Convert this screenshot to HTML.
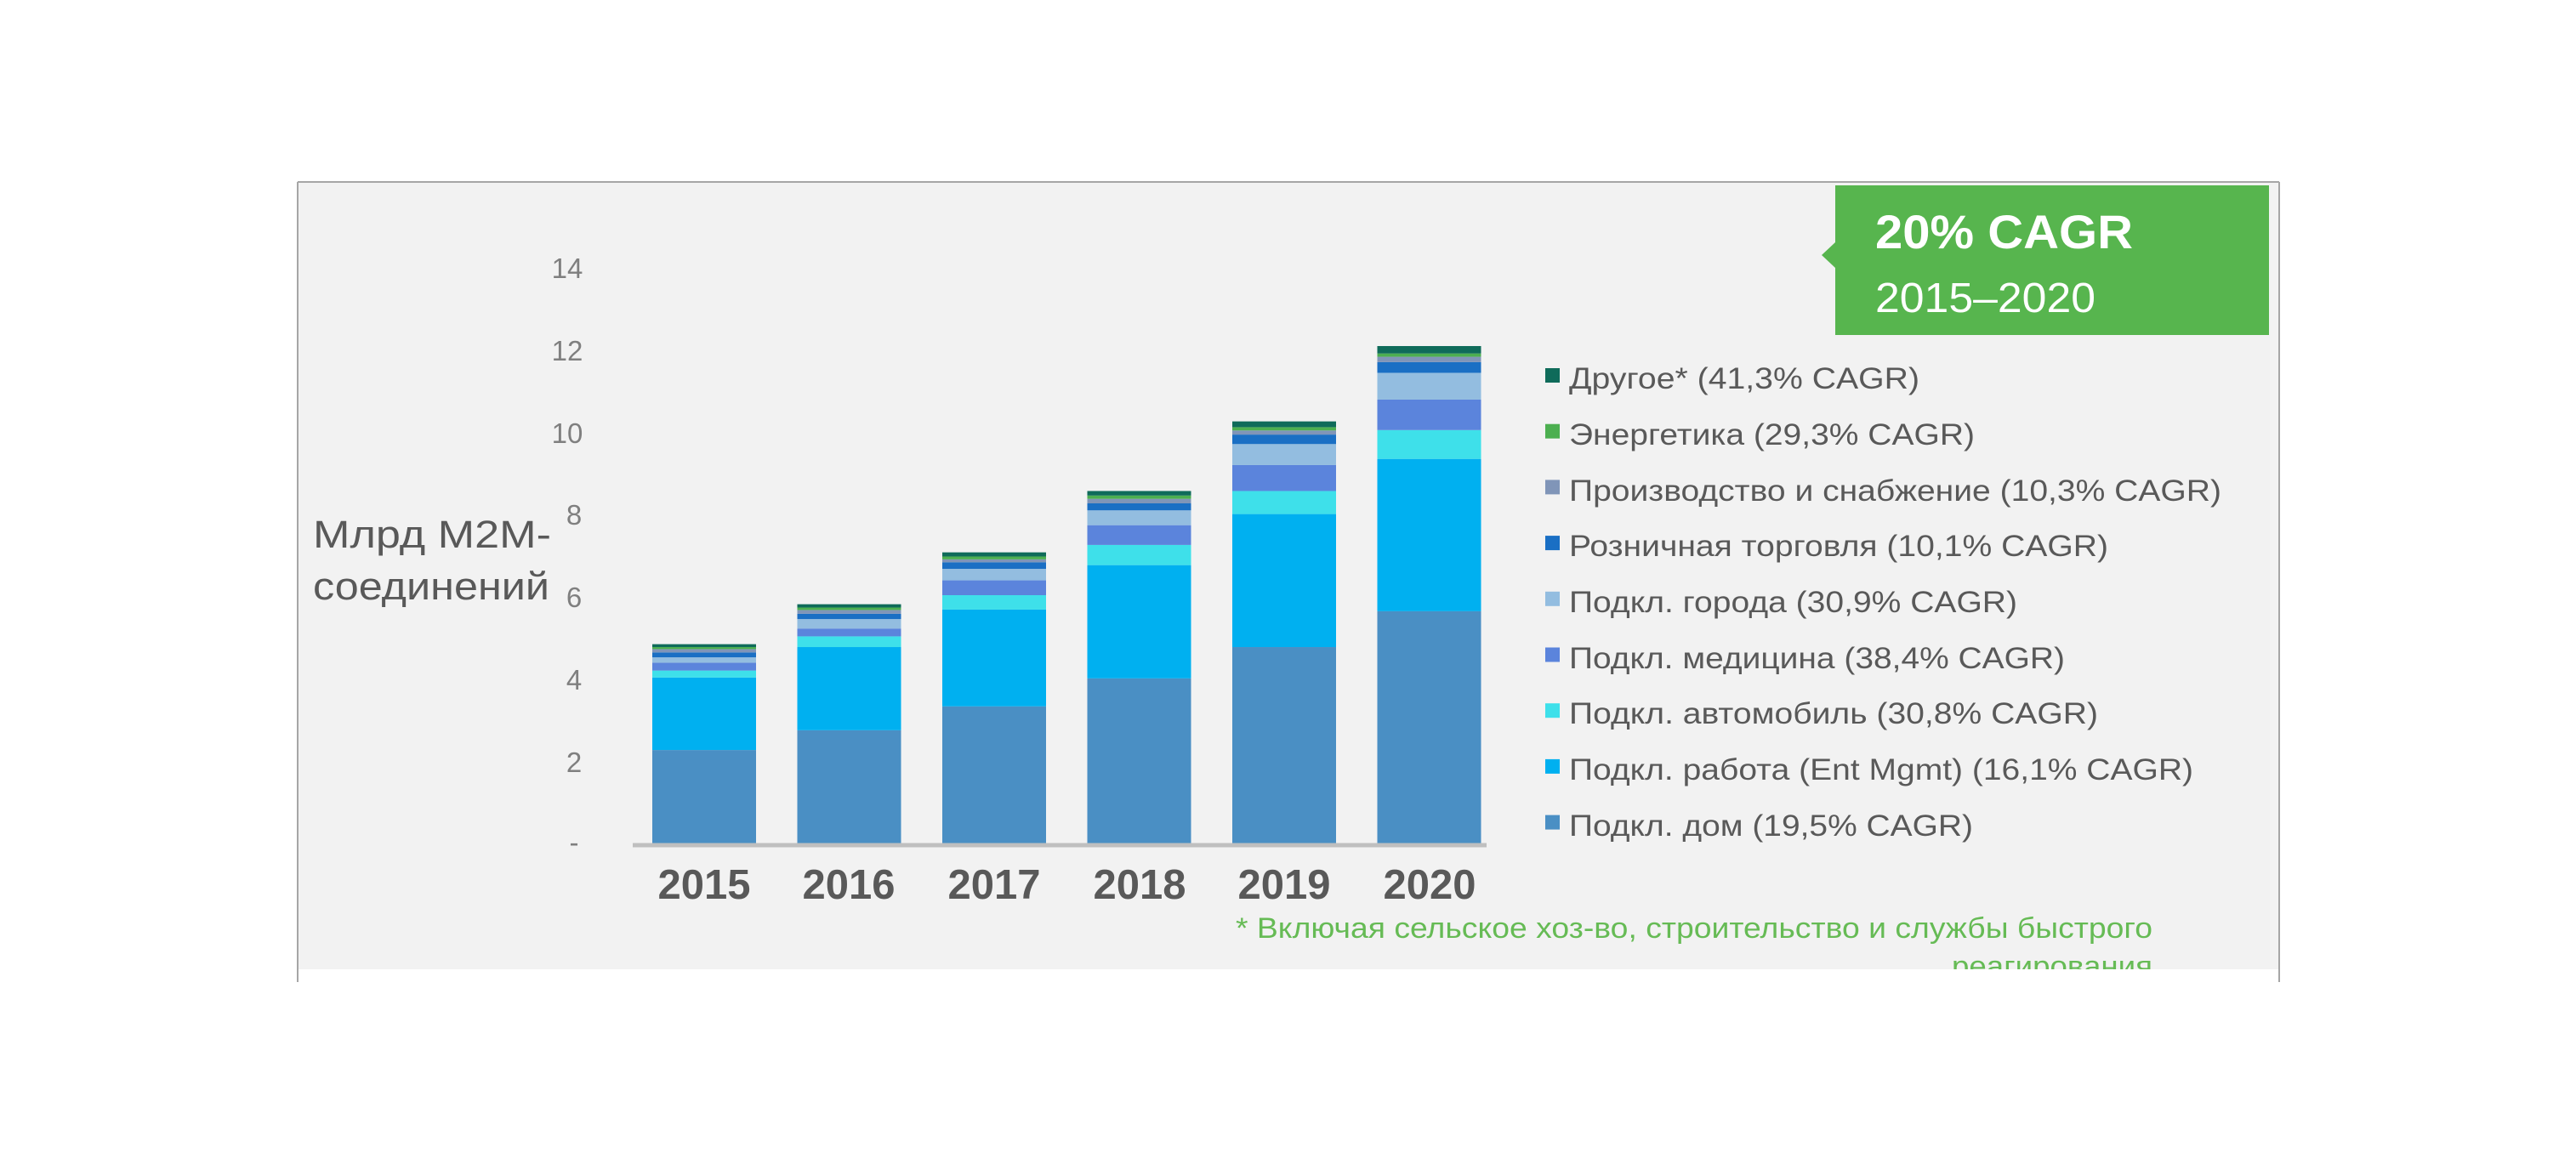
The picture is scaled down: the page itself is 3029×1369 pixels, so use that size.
<!DOCTYPE html>
<html><head><meta charset="utf-8"><style>
html,body{margin:0;padding:0;background:#fff;}
svg{display:block;}
text{font-family:"Liberation Sans",sans-serif;}
</style></head><body>
<svg id="s" width="3029" height="1369" viewBox="0 0 3029 1369" xmlns="http://www.w3.org/2000/svg">
<rect x="0" y="0" width="3029" height="1369" fill="#fff"/>
<rect x="351" y="215" width="2328" height="925" fill="#f2f2f2"/>
<line x1="350" y1="214" x2="2680" y2="214" stroke="#a6a6a6" stroke-width="2"/>
<line x1="350" y1="214" x2="350" y2="1155" stroke="#a6a6a6" stroke-width="2"/>
<line x1="2680" y1="214" x2="2680" y2="1155" stroke="#a6a6a6" stroke-width="2"/>
<polygon points="2158,218 2668,218 2668,394 2158,394 2158,315 2142,300 2158,285" fill="#57b54e"/>
<text x="2205" y="292" font-size="56" font-weight="bold" fill="#fff" textLength="303" lengthAdjust="spacingAndGlyphs">20% CAGR</text>
<text x="2205" y="367" font-size="49" fill="#fff" textLength="259" lengthAdjust="spacingAndGlyphs">2015–2020</text>
<g font-size="33" fill="#7f7f7f" text-anchor="middle">
<text x="667" y="327">14</text><text x="667" y="424">12</text><text x="667" y="521">10</text>
<text x="675" y="617">8</text><text x="675" y="714">6</text><text x="675" y="811">4</text>
<text x="675" y="908">2</text><text x="675" y="1002">-</text>
</g>
<g font-size="45" fill="#595959">
<text x="368" y="644" textLength="280" lengthAdjust="spacingAndGlyphs">Млрд M2M-</text>
<text x="368" y="705" textLength="278" lengthAdjust="spacingAndGlyphs">соединений</text>
</g>
<g id="bars"></g>
<line x1="744" y1="994" x2="1748" y2="994" stroke="#bfbfbf" stroke-width="5"/>
<g font-size="49" font-weight="bold" fill="#595959" text-anchor="middle">
<text x="828" y="1057">2015</text><text x="998" y="1057">2016</text><text x="1169" y="1057">2017</text>
<text x="1340" y="1057">2018</text><text x="1510" y="1057">2019</text><text x="1681" y="1057">2020</text>
</g>
<g font-size="35" fill="#595959" lengthAdjust="spacingAndGlyphs">
<text x="1845" y="457" textLength="412" lengthAdjust="spacingAndGlyphs">Другое* (41,3% CAGR)</text>
<text x="1845" y="523" textLength="477" lengthAdjust="spacingAndGlyphs">Энергетика (29,3% CAGR)</text>
<text x="1845" y="589" textLength="767" lengthAdjust="spacingAndGlyphs">Производство и снабжение (10,3% CAGR)</text>
<text x="1845" y="654" textLength="634" lengthAdjust="spacingAndGlyphs">Розничная торговля (10,1% CAGR)</text>
<text x="1845" y="720" textLength="527" lengthAdjust="spacingAndGlyphs">Подкл. города (30,9% CAGR)</text>
<text x="1845" y="786" textLength="583" lengthAdjust="spacingAndGlyphs">Подкл. медицина (38,4% CAGR)</text>
<text x="1845" y="851" textLength="622" lengthAdjust="spacingAndGlyphs">Подкл. автомобиль (30,8% CAGR)</text>
<text x="1845" y="917" textLength="734" lengthAdjust="spacingAndGlyphs">Подкл. работа (Ent Mgmt) (16,1% CAGR)</text>
<text x="1845" y="983" textLength="475" lengthAdjust="spacingAndGlyphs">Подкл. дом (19,5% CAGR)</text>
</g>
<g id="sq"></g>
<clipPath id="c"><rect x="0" y="0" width="3029" height="1140"/></clipPath>
<g font-size="34" fill="#66bb55" clip-path="url(#c)">
<text x="1453" y="1103" textLength="1078" lengthAdjust="spacingAndGlyphs">*  Включая сельское хоз-во, строительство и службы быстрого</text>
<text x="2295" y="1148" textLength="236" lengthAdjust="spacingAndGlyphs">реагирования</text>
</g>
</svg>
<script>
var cols=["#4a8fc4","#00b0f0","#3ee0ea","#5b84dc","#93bde0","#1a6fc4","#8095b8","#4caf50","#0f6b5a"];
var d=[[2.29,4.05,4.22,4.41,4.54,4.66,4.74,4.79,4.86],
[2.77,4.79,5.05,5.24,5.47,5.6,5.69,5.75,5.83],
[3.35,5.70,6.05,6.41,6.69,6.85,6.92,6.99,7.09],
[4.03,6.78,7.27,7.75,8.11,8.28,8.39,8.47,8.58],
[4.79,8.02,8.58,9.21,9.72,9.95,10.05,10.13,10.27],
[5.66,9.36,10.06,10.8,11.45,11.71,11.84,11.92,12.1]];
var g=document.getElementById("bars"),h="";
function Y(v){return 993-v*48.43;}
for(var i=0;i<6;i++){var x=767+i*170.5,p=0;
for(var k=0;k<9;k++){var v=d[i][k];h+='<rect x="'+x+'" y="'+Y(v)+'" width="122" height="'+(Y(p)-Y(v))+'" fill="'+cols[k]+'"/>';p=v;}}
g.innerHTML=h;
var s="";for(var k=0;k<9;k++){s+='<rect x="1817" y="'+(433+k*65.7)+'" width="17" height="17" fill="'+cols[8-k]+'"/>';}
document.getElementById("sq").innerHTML=s;
</script>
</body></html>
